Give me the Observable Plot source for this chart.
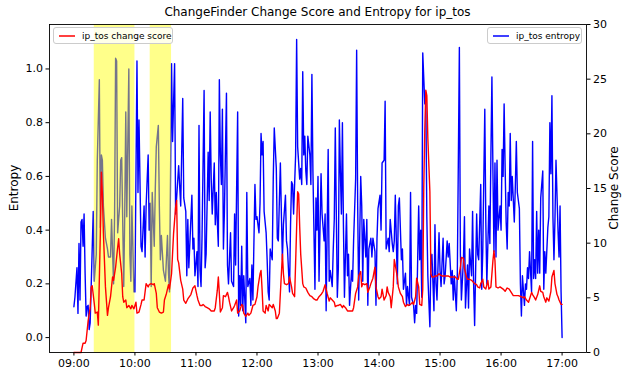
<!DOCTYPE html>
<html>
<head>
<meta charset="utf-8">
<script src="https://cdn.jsdelivr.net/npm/d3@7"></script>
<script src="https://cdn.jsdelivr.net/npm/@observablehq/plot@0.6"></script>
<style>
  body { margin: 0; background: #fff; font-family: "DejaVu Sans", sans-serif; }
  #wrap { position: relative; width: 622px; height: 374px; overflow: hidden; background: #fff; }
  #wrap > svg { position: absolute; left: 0; top: 0; overflow: visible; }
  .title { position: absolute; left: 49px; width: 537px; top: 5px; text-align: center; font-size: 12px; line-height: 14px; color: #000; z-index: 5; }
  .ylab { position: absolute; transform: translate(-50%, -50%) rotate(-90deg); white-space: nowrap; font-size: 12px; color: #000; z-index: 5; }
  .legend { position: absolute; box-sizing: border-box; background: rgba(255,255,255,0.8); border: 1px solid #cccccc; border-radius: 3px; font-size: 9px; color: #000; display: flex; align-items: center; z-index: 6; }
  .legend svg.sw { display: block; width: 16px; height: 4px; margin-right: 7px; }
</style>
</head>
<body>
<div id="wrap"></div>
<script>
// ---- data (minutes after 09:00, value) ----
const titleText = "ChangeFinder Change Score and Entropy for ip_tos";
const hourLabels = ["09:00","10:00","11:00","12:00","13:00","14:00","15:00","16:00","17:00"];
const entropyTicks = [0.0, 0.2, 0.4, 0.6, 0.8, 1.0];
const scoreTicks = [0, 5, 10, 15, 20, 25, 30];
const highlightStarts = ["09:20", "10:15"];
const highlightEnds = ["10:00", "10:36"];

const entropyReadings = [
[0,.115],[1,.15],[3,.26],[4,.09],[5,.35],[6,.14],[7,.43],[8,.44],[9,.34],[10,.46],[11,.24],[12,.08],[13,.115],[14,.12],[15,.03],[16,.055],[19,.47],[20,.21],[22,.31],[23,.66],[25,.96],[26,.41],[27,.68],[28,.66],[29,.49],[31,.37],[33,.33],[34,.30],[36,.30],[37,.44],[39,.20],[40,.46],[41,1.04],[42,1.03],[43,.39],[45,.49],[46,.66],[47,.67],[49,.19],[50,.47],[51,.84],[52,.45],[54,1.00],[55,.31],[56,.21],[57,.49],[59,.17],[60,.17],
[62,1.03],[63,.54],[64,.81],[66,.34],[67,.32],[69,.49],[70,.30],[71,.49],[73,.68],[74,.40],[75,.50],[76,.19],[77,.54],[79,.34],[80,.55],[81,.71],[83,.79],[84,.49],[85,.29],[86,.38],[88,.25],[90,.21],[92,.38],[93,.24],[94,.17],[96,1.02],[97,.73],[99,1.02],[100,.46],[102,.58],[103,.64],[105,.49],[107,.89],[108,.52],[110,.47],[111,.23],[112,.44],[113,.26],[115,.44],[116,.53],[117,.33],[118,.37],[119,.23],
[121,.32],[122,.19],[123,.79],[124,.25],[125,.19],[126,.38],[128,.92],[129,.26],[130,.31],[132,.69],[133,.51],[134,.84],[135,.59],[136,.46],[138,.65],[139,.42],[140,.54],[141,.43],[142,.34],[143,.96],[144,.68],[145,.57],[146,.85],[147,.33],[148,.47],[150,.91],[151,.27],[152,.20],[154,.39],[155,.21],[157,.19],[158,.46],[159,.27],[161,.84],[162,.08],[163,.23],[164,.12],[165,.34],[166,.10],[167,.23],[169,.055],[170,.54],[171,.19],[173,.22],[174,.12],[175,.27],[176,.14],[178,.57],[179,.44],
[180,.45],[182,.39],[183,.50],[184,.76],[185,.68],[186,.73],[187,.47],[189,.39],[190,.29],[191,.17],[192,.14],[193,.33],[195,.29],[196,.59],[197,.78],[199,.63],[200,.37],[201,.36],[203,.65],[204,.46],[205,.29],[206,.42],[208,.53],[209,.36],[210,.33],[212,.17],[213,.42],[214,.58],[215,.57],[216,.46],[218,.68],[219,1.11],[220,.71],[222,.59],[223,.63],[224,.57],[225,.99],[226,.68],[227,.75],[228,.62],[229,.57],[230,.75],[232,.68],[233,.57],[234,.98],[235,.62],[237,.18],[238,.52],[239,.40],
[240,.60],[241,.21],[243,.61],[244,.46],[246,.36],[247,.46],[248,.10],[250,.70],[251,.21],[252,.25],[254,.19],[255,.33],[256,.44],[257,.78],[259,.15],[260,.26],[261,.81],[262,.62],[263,.46],[264,.80],[265,.42],[266,.15],[268,.46],[269,.23],[270,.31],[271,.12],[273,.25],[274,.21],[275,.36],[277,.59],[278,1.07],[279,.50],[280,.14],[282,.60],[283,.49],[284,.21],[285,.44],[287,.30],[288,.44],[289,.12],[290,.33],[292,.37],[293,.30],[294,.37],[296,.32],[297,.12],[298,.37],[299,.48],
[301,.53],[302,.40],[303,.65],[305,.66],[306,.88],[307,.33],[309,.37],[310,.32],[311,.44],[313,.35],[314,.32],[315,.36],[316,.53],[318,.20],[319,.49],[320,.52],[322,.29],[323,.33],[324,.18],[326,.24],[327,.12],[328,.19],[330,.12],[331,.54],[332,.15],[334,.12],[335,.055],[336,.12],[337,.09],[339,.49],[340,.29],[341,.40],[342,.15],[343,1.06],[345,.87],[346,.90],[347,.45],[348,.23],[350,.04],[351,.29],[352,.31],[354,.10],[355,.42],[356,.20],[357,.14],[359,.39],
[360,.25],[361,.19],[363,.37],[364,.20],[365,.23],[367,.36],[368,.30],[369,.35],[371,.20],[372,.25],[373,.14],[374,.23],[376,.10],[377,.24],[379,1.08],[380,.31],[381,.14],[383,.29],[384,.45],[385,.11],[387,.27],[388,.11],[389,.33],[391,.23],[392,.47],[393,.20],[394,.045],[396,.46],[397,.31],[398,.29],[400,.57],[401,.18],[402,.32],[404,.85],[405,.43],[406,.20],[408,.49],[409,.35],[410,.68],[411,.97],[412,.62],[413,.32],[414,.65],[415,.30],[416,.66],[417,.40],[419,.49],
[420,.40],[421,.70],[422,.60],[423,.87],[424,.63],[425,.43],[426,.33],[427,.54],[428,.49],[429,.76],[430,.51],[431,.60],[433,.43],[434,.56],[435,.73],[436,.54],[438,.48],[439,.20],[440,.08],[441,.23],[443,.12],[444,.20],[445,.18],[446,.26],[447,.22],[448,.32],[450,.17],[451,.73],[452,.22],[453,.29],[454,.22],[455,.47],[456,.24],[457,.40],[458,.24],[459,.52],[461,.62],[462,.18],[463,.32],[464,.24],[466,.41],[467,.45],[468,.80],[469,.61],[470,.90],[471,.45],[472,.29],[473,.44],[474,.66],[476,.40],[477,.30],[478,.49],[479,.17],[480,.00]
];

const changeScoreReadings = [
[0,0.0],[7,0.0],[9,0.85],[11,0.85],[12,1.1],[14,2.9],[16,4.1],[17,6.0],[18,6.1],[20,4.5],[21,3.6],[23,3.7],[24,2.5],[26,10.9],[27,16.5],[28,14.5],[29,10.9],[31,6.0],[33,3.4],[34,4.1],[36,5.1],[38,6.9],[39,6.6],[41,7.8],[43,9.6],[44,10.4],[45,9.0],[47,7.2],[48,5.1],[49,4.6],[51,4.8],[52,4.1],[54,4.3],[56,4.0],[57,4.3],[59,4.0],
[61,4.6],[62,3.6],[64,3.7],[66,4.4],[67,4.8],[69,4.8],[71,6.3],[73,6.0],[74,6.2],[76,6.3],[78,6.2],[79,6.3],[81,5.4],[82,4.1],[84,3.7],[86,3.6],[88,3.7],[89,4.8],[91,5.4],[93,6.2],[94,5.8],[96,7.2],[98,10.9],[100,13.3],[101,13.9],[102,8.5],[103,8.2],[105,6.6],[107,5.8],[108,4.8],[110,4.5],[112,4.9],[115,5.3],[117,5.9],[119,6.1],
[121,5.2],[122,4.8],[124,4.3],[126,4.3],[127,4.4],[129,4.2],[131,4.1],[133,4.0],[135,3.8],[138,3.8],[139,4.1],[141,5.7],[142,6.9],[143,5.4],[144,3.7],[146,4.1],[147,5.2],[149,5.1],[151,5.5],[152,5.1],[153,4.6],[155,3.8],[157,4.1],[158,4.3],[160,4.8],[161,3.6],[163,3.8],[165,4.4],[166,4.3],[167,3.6],[169,3.3],[171,3.6],[172,3.4],[174,3.6],[176,4.3],[178,4.4],
[180,5.1],[181,6.0],[183,7.2],[184,7.5],[185,5.8],[186,3.8],[188,3.6],[189,4.3],[191,3.8],[192,4.4],[193,4.3],[195,4.1],[196,4.4],[198,3.8],[199,3.1],[200,3.1],[202,3.6],[203,5.4],[205,9.0],[206,7.2],[207,6.3],[209,6.2],[211,6.3],[212,6.9],[214,6.0],[215,5.4],[217,5.1],[218,8.2],[220,14.7],[221,14.5],[222,11.5],[223,9.0],[225,6.3],[226,6.0],[228,5.9],[230,5.5],[232,5.2],[234,5.1],[236,4.9],[238,4.8],[239,4.8],
[241,5.1],[243,5.3],[245,5.6],[247,6.2],[249,5.4],[251,4.7],[252,5.0],[254,4.8],[256,4.6],[257,4.2],[259,4.3],[260,4.3],[262,4.4],[264,4.1],[265,4.3],[267,4.1],[269,3.8],[271,3.8],[274,3.8],[275,4.1],[277,5.4],[279,6.0],[280,7.0],[282,7.4],[283,6.0],[284,6.3],[286,6.2],[288,6.3],[289,5.5],[291,6.0],[292,6.3],[294,6.8],[296,7.8],[297,6.0],[299,5.1],
[300,4.9],[302,5.1],[303,5.8],[305,4.8],[307,5.2],[308,6.0],[309,5.5],[311,5.1],[312,4.1],[314,6.0],[315,8.5],[316,8.0],[318,6.9],[319,6.0],[321,5.4],[323,5.1],[324,4.6],[326,4.2],[328,4.4],[329,4.3],[331,4.4],[333,4.6],[334,4.4],[336,5.1],[337,6.8],[339,6.0],[340,4.4],[342,4.3],[343,5.8],[344,15.1],[345,20.3],[346,24.0],[347,23.5],[348,19.6],[350,14.7],[351,7.2],[352,6.9],[354,6.9],[355,7.0],[357,7.0],[359,7.2],
[360,7.1],[362,7.0],[364,7.0],[366,7.0],[368,7.0],[370,6.9],[371,6.9],[373,6.9],[375,6.9],[377,6.7],[378,6.7],[380,7.8],[381,8.7],[383,8.6],[384,7.7],[386,6.9],[387,6.7],[389,6.7],[391,6.6],[393,6.4],[394,6.3],[396,6.2],[397,6.0],[399,5.9],[400,6.3],[402,6.7],[403,6.0],[405,5.8],[407,6.6],[408,5.8],[410,6.0],[412,8.4],[413,9.3],[414,8.4],[415,6.0],[417,5.9],[419,6.0],
[422,5.8],[424,5.6],[426,5.9],[428,5.8],[430,5.5],[432,5.2],[435,5.2],[437,5.2],[440,5.1],[442,5.0],[443,5.1],[445,4.8],[447,4.6],[450,5.5],[451,5.3],[453,5.0],[454,4.8],[456,5.3],[458,6.1],[459,5.6],[461,5.5],[462,5.1],[464,4.6],[465,5.0],[467,4.7],[469,5.6],[470,6.9],[472,7.5],[473,6.3],[475,5.3],[476,5.1],[477,4.8],[479,4.4],[480,4.4]
];

// ---- helpers ----
const base = Date.UTC(2024, 0, 1, 9, 0);
const fromMin = m => new Date(base + m * 60000);
const fromHM = s => { const [h, m] = s.split(":").map(Number); return fromMin((h - 9) * 60 + m); };
const spans = highlightStarts.map((s, i) => ({start: fromHM(s), end: fromHM(highlightEnds[i])}));
const hourTicks = hourLabels.map(fromHM);

const W = 622, H = 374;
const common = {
  width: W, height: H,
  marginLeft: 49, marginRight: 36, marginTop: 24, marginBottom: 22,
  x: {type: "utc", domain: [fromMin(-24), fromMin(504)]},
  style: {fontFamily: "DejaVu Sans", fontSize: "11px", background: "transparent", color: "#000", overflow: "visible"}
};

const plotEntropy = Plot.plot({
  ...common,
  y: {domain: [-0.0555, 1.1655]},
  marks: [
    Plot.line(entropyReadings, {x: d => fromMin(d[0]), y: d => d[1], stroke: "#0000ff", strokeWidth: 1.4}),
    Plot.rect(spans, {x1: "start", x2: "end", fill: "#ffff00", fillOpacity: 0.46}),
    Plot.axisX({ticks: hourTicks, tickFormat: d3.utcFormat("%H:%M"), tickSize: 3.5, tickPadding: 3, label: null}),
    Plot.axisY({ticks: entropyTicks, tickFormat: d3.format(".1f"), tickSize: 3.5, tickPadding: 3, label: null})
  ]
});

const plotScore = Plot.plot({
  ...common,
  x: {...common.x, axis: null},
  y: {domain: [0, 30]},
  marks: [
    Plot.line(changeScoreReadings, {x: d => fromMin(d[0]), y: d => d[1], stroke: "#ff0000", strokeWidth: 1.4}),
    Plot.axisY({anchor: "right", ticks: scoreTicks, tickSize: 3.5, tickPadding: 3, label: null}),
    Plot.frame({stroke: "#000", strokeWidth: 0.9})
  ]
});

const wrap = document.getElementById("wrap");
wrap.appendChild(plotEntropy);
wrap.appendChild(plotScore);

const title = document.createElement("div");
title.className = "title";
title.textContent = titleText;
wrap.appendChild(title);

const yl = document.createElement("div");
yl.className = "ylab"; yl.textContent = "Entropy";
yl.style.left = "14px"; yl.style.top = "188px";
wrap.appendChild(yl);

const yr = document.createElement("div");
yr.className = "ylab"; yr.textContent = "Change Score";
yr.style.left = "614px"; yr.style.top = "188px";
wrap.appendChild(yr);

const NS = "http://www.w3.org/2000/svg";
function legend(left, top, width, color, label) {
  const d = document.createElement("div");
  d.className = "legend";
  d.style.left = left + "px"; d.style.top = top + "px";
  d.style.width = width + "px"; d.style.height = "17px";
  d.style.paddingLeft = "5px";
  const sw = document.createElementNS(NS, "svg");
  sw.setAttribute("class", "sw");
  sw.setAttribute("width", "16"); sw.setAttribute("height", "4");
  const ln = document.createElementNS(NS, "line");
  ln.setAttribute("x1", "0"); ln.setAttribute("x2", "16");
  ln.setAttribute("y1", "2"); ln.setAttribute("y2", "2");
  ln.setAttribute("stroke", color); ln.setAttribute("stroke-width", "1.5");
  sw.appendChild(ln);
  const tx = document.createElement("span");
  tx.textContent = label;
  d.appendChild(sw); d.appendChild(tx);
  wrap.appendChild(d);
}
legend(53, 27, 120, "#ff0000", "ip_tos change score");
legend(487, 27, 95, "#0000ff", "ip_tos entropy");
</script>
</body>
</html>
